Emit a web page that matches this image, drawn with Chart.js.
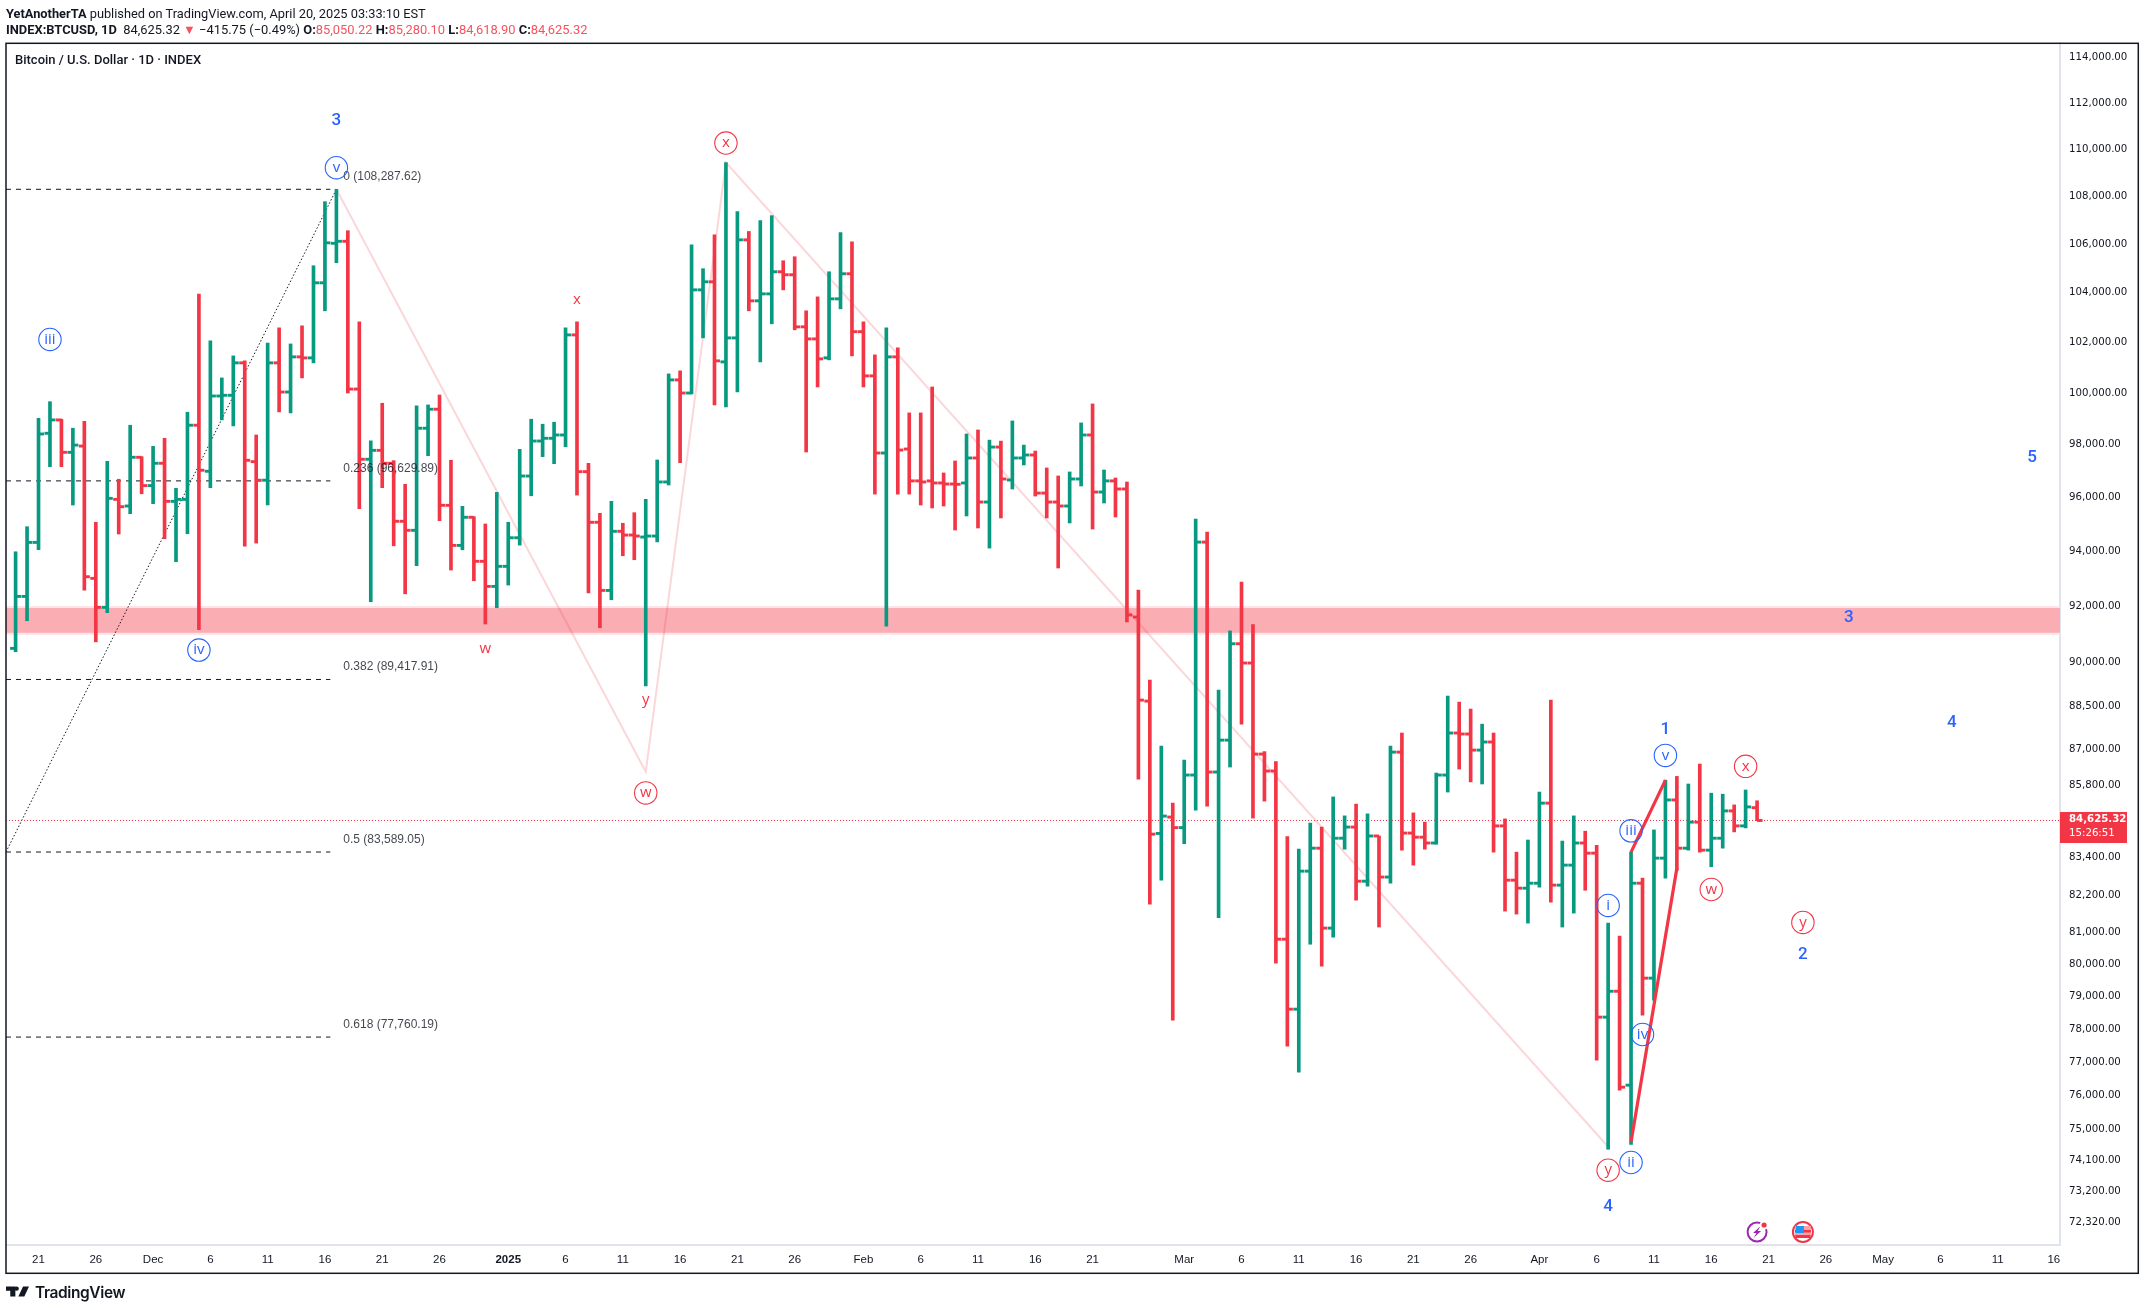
<!DOCTYPE html>
<html><head><meta charset="utf-8">
<style>
html,body{margin:0;padding:0;background:#fff;width:2145px;height:1310px;overflow:hidden}
canvas{position:absolute;left:0;top:0;display:block}
.t{position:absolute;white-space:nowrap;color:#131722;font-family:Roboto,sans-serif}
.r{color:#f7525f}
b{font-weight:700}
</style>
<script src="https://cdn.jsdelivr.net/npm/chart.js@4"></script>
</head><body>
<canvas id="c" width="2145" height="1310"></canvas>
<div class="t" style="left:6px;top:5.5px;font-size:12.8px"><b>YetAnotherTA</b> published on TradingView.com, April 20, 2025 03:33:10 EST</div>
<div class="t" style="left:6px;top:22px;font-size:12.9px"><b>INDEX:BTCUSD, 1D</b>&nbsp; 84,625.32 <span class="r">▼</span> −415.75 (−0.49%) <b>O:</b><span class="r">85,050.22</span> <b>H:</b><span class="r">85,280.10</span> <b>L:</b><span class="r">84,618.90</span> <b>C:</b><span class="r">84,625.32</span></div>
<div class="t" style="left:15px;top:52px;font-size:13px;font-weight:500">Bitcoin / U.S. Dollar · 1D · INDEX</div>
<svg style="position:absolute;left:6px;top:1286px" width="23" height="11" viewBox="0 0 27 12"><path fill="#131722" d="M0 0h11v12H5V5H0zM12.5 0a2.6 2.6 0 1 1 0 5.2a2.6 2.6 0 0 1 0-5.2zM20 0h7l-5.5 12h-7z"/></svg>
<div class="t" style="left:35px;top:1282.5px;font-size:15.5px;font-weight:600;font-family:Inter,sans-serif;letter-spacing:-.4px">TradingView</div>
<script>
const opens=[90510,92366,94336,98444,98959,97714,97953,93020,91973,95935,
95686,97525,96452,97297,95861,95935,98754,96994,99888,99915,
101189,97358,96655,101189,100043,101426,101386,104403,106027,106110,
100158,97449,97790,97297,95117,94782,98638,99373,95712,94225,
95266,93641,92728,93458,94507,96813,98146,98251,98378,102300,
96979,95080,92583,94745,94607,94533,94570,96589,100518,100004,
104116,104444,101228,102180,106170,103671,103953,104855,104732,102623,
102140,101386,103751,104773,102429,100676,97688,101426,97839,96629,
96629,96551,96513,96551,97498,95835,97915,96664,97498,97612,
96170,95835,95686,96702,98378,96210,96629,96324,91625,88665,
84198,84738,84390,86141,94347,86242,87324,90674,89994,86849,
86276,80791,78612,82967,83715,81141,84041,84408,82642,84115,
82776,86916,84210,84075,83884,86141,87567,87533,86984,87260,
84447,82675,82417,82577,85201,82515,83162,83884,83552,78368,
79164,76313,82577,79571,83390,85307,83715,84572,83650,84041,
84943,84447,85050.22];
const highs=[93991,94916,99025,99667,98986,98638,98909,95080,97373,96691,
98754,97548,97942,98251,96350,99257,103941,102059,100596,101465,
101268,98378,101979,102583,101940,102663,105102,107765,108288,106550,
102824,98158,99605,97396,96502,99501,99540,99926,97411,95675,
95288,95017,96197,95080,97828,98986,98793,98870,102583,102824,
97297,95415,95861,95043,95437,95935,97422,100754,100873,105965,
104980,106380,109423,107346,106519,106969,107178,105307,105472,103268,
103832,104855,106472,106089,102824,101505,102583,101781,99230,99230,
100241,96930,97385,98417,98572,98181,98143,98920,97991,97764,
97119,96816,96968,98843,99578,97043,96740,96589,92593,89397,
87118,85201,86646,95203,94720,89046,91130,92885,91357,86933,
86596,84092,83682,84540,84408,85408,84778,85168,84844,84115,
87118,87567,84877,84572,86208,88840,88631,88391,87870,87567,
84678,83585,83982,85570,88700,83948,84778,84272,83810,81300,
80886,83585,82740,84315,85970,86095,85840,86512,85533,85500,
85142,85640,85280.10];
const lows=[90390,91493,94064,97169,97169,95723,92593,90741,91779,94645,
95400,96144,95772,94470,93626,94656,91171,96373,98959,98727,
94199,94310,95723,99269,99230,100596,101189,103268,105225,100004,
95586,92173,96373,94210,92459,93480,97585,95139,93323,94064,
92933,91375,91958,92776,94236,96069,97548,97282,97927,96095,
92495,91242,92245,93845,93699,89196,94355,96475,97320,99965,
102182,99540,99462,100043,103268,101228,102744,104116,102502,97726,
100241,101307,103348,101465,100241,96133,91303,96133,96133,95723,
95612,95686,94793,95314,94867,94126,95240,96324,97233,96058,
95240,93396,95054,96437,94830,95798,95277,91448,86006,81904,
82675,78276,83860,84970,85102,81470,86411,87874,84705,85268,
80039,77482,76702,80632,79946,80854,83682,82032,82482,81175,
82577,83650,83162,83682,83845,85570,86343,85910,85840,83585,
81682,81587,81300,82450,81968,81175,81618,82350,77062,74426,
76162,74570,78430,78888,82740,82993,83650,83585,83110,83715,
84248,84380,84618.90];
const closes=[92366,94336,98417,98959,97714,97991,93079,91973,95973,95660,
97525,96452,97297,95861,95935,98754,97032,99888,99915,101189,
97411,96655,101189,100043,101426,101386,104403,106047,106110,100158,
97449,97790,97297,95117,94782,98638,99373,95712,94225,95266,
93641,92728,93458,94507,96813,98146,98251,98378,102300,96979,
95080,92583,94745,94607,94570,94570,96589,100518,100004,104116,
104444,101268,102180,106170,103671,103953,104855,104732,102623,102140,
101347,103751,104773,102429,100676,97688,101426,97801,96629,96589,
96551,96513,96500,97498,95835,97915,96702,97498,97612,96170,
95835,95686,96702,98378,96210,96629,96324,91700,88700,84175,
84771,84390,86141,94347,86242,87324,90674,89994,86849,86276,
80791,78612,82967,83715,81141,84041,84408,82642,84115,82776,
86916,84210,84075,83884,86141,87567,87533,86984,87260,84447,
82675,82417,82577,85201,82515,83162,83884,83552,78368,79164,
76253,82577,79571,83390,85307,83715,84572,83650,84041,84943,
84447,85075,84625.32];
const priceTicks=[114000,112000,110000,108000,106000,104000,102000,100000,98000,96000,94000,92000,90000,88500,87000,85800,83400,82200,81000,80000,79000,78000,77000,76000,75000,74100,73200,72320];
const tickDays=[2,7,12,17,22,27,32,37,43,48,53,58,63,68,74,79,84,89,94,102,107,112,117,122,127,133,138,143,148,153,158,163,168,173,177.9];
const tickLabels=['21','26','Dec','6','11','16','21','26','2025','6','11','16','21','26','Feb','6','11','16','21','Mar','6','11','16','21','26','Apr','6','11','16','21','26','May','6','11','16'];
const fibValues=[108287.62,96629.89,89417.91,83589.05,77760.19];
const fibNames=['0','0.236','0.382','0.5','0.618'];
const lastPrice=84625.32;
const zoneTop=91948, zoneBottom=91063;
const paleDays=[28,55,62,139], palePrices=[108287.62,86252,109423,74500];
const impulseA=[[141,74637],[145,83065]], impulseB=[[141,83585],[144,85970]];
const diagDays=[-0.84,28], diagPrices=[83589.05,108287.62];
const waveDays=[28,28,3,16,41,49,55,55,62,176,160,169,144,144,151,148,141,139,142,141,139,139,156,156];
const wavePrices=[111250,109205,102119,90450,90520,103751,88734,85542,110262,97551,91625,87960,87704,86805,86434,82374,84284,81863,77838,74042,73820,72796,81322,80346];
const waveTexts=['3','v','iii','iv','w','x','y','w','x','5','3','4','1','v','x','w','iii','i','iv','ii','y','4','y','2'];
const waveCircled=[0,1,1,1,0,0,0,1,1,0,0,0,0,1,1,1,1,1,1,1,1,0,1,0];
const waveBlue=[1,1,1,1,0,0,0,0,0,1,1,1,1,1,0,0,1,1,1,1,0,1,0,1];

const GREEN='#089981', RED='#f23645', BLUE='#2962ff', INK='#131722';
const idx=opens.map((_,i)=>i);
const colors=idx.map(i=>closes[i]>=opens[i]?GREEN:RED);
const XMIN=-0.838, XMAX=178.44;

const overlays={id:'overlays',
 beforeDatasetsDraw(ch){
  const {ctx,chartArea:a,scales:{y}}=ch;
  const t=y.getPixelForValue(zoneTop),b=y.getPixelForValue(zoneBottom);
  ctx.save();
  ctx.fillStyle='#fde4e6';ctx.fillRect(a.left,t-2,a.right-a.left,b-t+4);
  ctx.fillStyle='#faaeb4';ctx.fillRect(a.left,t,a.right-a.left,b-t);
  ctx.restore();
 },
 afterDatasetsDraw(ch){
  const {ctx,chartArea:a,scales:{x,y}}=ch;
  ctx.save();
  ctx.textBaseline='middle';
  ctx.textAlign='left';ctx.font='12px "Liberation Sans"';ctx.fillStyle='rgba(19,23,34,.8)';
  fibValues.forEach((v,i)=>{
   ctx.fillText(fibNames[i]+' ('+v.toLocaleString('en-US',{minimumFractionDigits:2})+')',x.getPixelForValue(28.6),y.getPixelForValue(v)-12.5);
  });
  ctx.textAlign='center';
  waveTexts.forEach((s,i)=>{
   const px=x.getPixelForValue(waveDays[i]),py=y.getPixelForValue(wavePrices[i]);
   const c=waveBlue[i]?BLUE:RED;
   ctx.fillStyle=c;
   if(waveCircled[i]){
    ctx.strokeStyle=c;ctx.lineWidth=1.1;ctx.beginPath();ctx.arc(px,py,11.2,0,Math.PI*2);ctx.stroke();
    ctx.font='15px "Open Sans"';ctx.fillText(s,px,py);
   } else {
    ctx.font=/\d/.test(s)?'500 17px Roboto':'15px "Open Sans"';ctx.fillText(s,px,py+1);
   }
  });
  const iy=a.bottom-13;
  const ix1=x.getPixelForValue(152),ix2=x.getPixelForValue(156);
  ctx.strokeStyle='#9c27b0';ctx.lineWidth=2;ctx.beginPath();ctx.arc(ix1,iy,9.5,0,Math.PI*2);ctx.stroke();
  ctx.fillStyle='#9c27b0';ctx.beginPath();ctx.moveTo(ix1+3.5,iy-6);ctx.lineTo(ix1-4,iy+1);ctx.lineTo(ix1-.5,iy+1);ctx.lineTo(ix1-3.5,iy+6);ctx.lineTo(ix1+4,iy-1);ctx.lineTo(ix1+.5,iy-1);ctx.closePath();ctx.fill();
  ctx.fillStyle='#fff';ctx.beginPath();ctx.arc(ix1+7,iy-7,4.5,0,Math.PI*2);ctx.fill();
  ctx.fillStyle=RED;ctx.beginPath();ctx.arc(ix1+7,iy-7,2.6,0,Math.PI*2);ctx.fill();
  ctx.strokeStyle=RED;ctx.lineWidth=2;ctx.beginPath();ctx.arc(ix2,iy,10,0,Math.PI*2);ctx.stroke();
  ctx.fillStyle='#f9a0a8';ctx.fillRect(ix2-8,iy-6,16,10);
  ctx.fillStyle=RED;ctx.fillRect(ix2-8,iy-2,16,2.5);ctx.fillRect(ix2-7.5,iy+3,15,3);
  ctx.fillStyle='#2196f3';ctx.fillRect(ix2-7,iy-6,8,7);
  ctx.restore();
 },
 afterDraw(ch){
  const {ctx,chartArea:a,scales:{y}}=ch;
  ctx.save();
  const py=y.getPixelForValue(lastPrice);
  ctx.fillStyle=RED;ctx.fillRect(a.right,py-8.5,67,31);
  ctx.fillStyle='#fff';ctx.textAlign='left';ctx.textBaseline='middle';
  ctx.font='bold 10.2px "DejaVu Sans"';ctx.fillText(lastPrice.toLocaleString('en-US'),a.right+9,py-1.5);
  ctx.font='10.2px "DejaVu Sans"';ctx.fillText('15:26:51',a.right+9,py+13);
  ctx.strokeStyle=INK;ctx.lineWidth=1.5;ctx.strokeRect(6,43.3,2132.3,1230);
  ctx.restore();
 }};

const lineSet=(data,extra)=>Object.assign({type:'line',data,pointRadius:0,tension:0,fill:false,order:6,borderWidth:1,borderColor:INK},extra);
const datasets=[
 {type:'bar',data:idx.map(i=>({x:i,y:[lows[i],highs[i]]})),backgroundColor:colors,barThickness:3,grouped:false,order:3},
 {type:'scatter',data:idx.map(i=>({x:i-0.24,y:opens[i]})),pointStyle:'line',pointRadius:2.75,pointHoverRadius:2.75,pointBorderWidth:2.9,pointBorderColor:colors,showLine:false,order:2},
 {type:'scatter',data:idx.map(i=>({x:i+0.24,y:closes[i]})),pointStyle:'line',pointRadius:2.75,pointHoverRadius:2.75,pointBorderWidth:2.9,pointBorderColor:colors,showLine:false,order:2},
 lineSet([{x:XMIN,y:lastPrice},{x:XMAX,y:lastPrice}],{borderColor:RED,borderDash:[1,2],order:7}),
 lineSet(paleDays.map((d,i)=>({x:d,y:palePrices[i]})),{borderColor:'rgba(242,54,69,.2)',borderWidth:2,order:5}),
 lineSet(diagDays.map((d,i)=>({x:d,y:diagPrices[i]})),{borderDash:[1.5,2],order:4}),
 lineSet(impulseA.map(p=>({x:p[0],y:p[1]})),{borderColor:RED,borderWidth:3.2,order:1}),
 lineSet(impulseB.map(p=>({x:p[0],y:p[1]})),{borderColor:RED,borderWidth:3.2,order:1})
];
fibValues.forEach(v=>datasets.push(lineSet([{x:XMIN,y:v},{x:27.47,y:v}],{borderDash:[5,5],order:4})));

new Chart(document.getElementById('c'),{
 type:'bar',
 data:{datasets},
 plugins:[overlays],
 options:{
  responsive:false,animation:false,devicePixelRatio:1,
  layout:{padding:{left:6,top:43,right:7,bottom:37}},
  plugins:{legend:{display:false},tooltip:{enabled:false}},
  scales:{
   x:{type:'linear',min:XMIN,max:XMAX,offset:false,bounds:'data',
    afterBuildTicks(s){s.ticks=tickDays.map(v=>({value:v}));},
    afterFit(s){s.height=28;},
    grid:{display:false,drawTicks:false},
    border:{display:true,color:'#e0e3eb',width:2},
    ticks:{autoSkip:false,maxRotation:0,padding:8,color:INK,
     font:c=>({family:'Liberation Sans',size:11.5,weight:tickLabels[tickDays.indexOf(c.tick&&c.tick.value)]==='2025'?'bold':'normal'}),
     callback:v=>tickLabels[tickDays.indexOf(v)]}
   },
   y:{type:'logarithmic',position:'right',min:71694,max:114656,bounds:'data',
    afterBuildTicks(s){s.ticks=priceTicks.map(v=>({value:v}));},
    afterFit(s){s.width=78;},
    grid:{display:false,drawTicks:false},
    border:{display:true,color:'#e0e3eb',width:2},
    ticks:{autoSkip:false,padding:9,color:INK,align:'center',crossAlign:'near',
     font:{family:'DejaVu Sans',size:10.2},
     callback:v=>Number(v).toLocaleString('en-US',{minimumFractionDigits:2,maximumFractionDigits:2})}
   }
  }
 }
});
</script>
</body></html>
